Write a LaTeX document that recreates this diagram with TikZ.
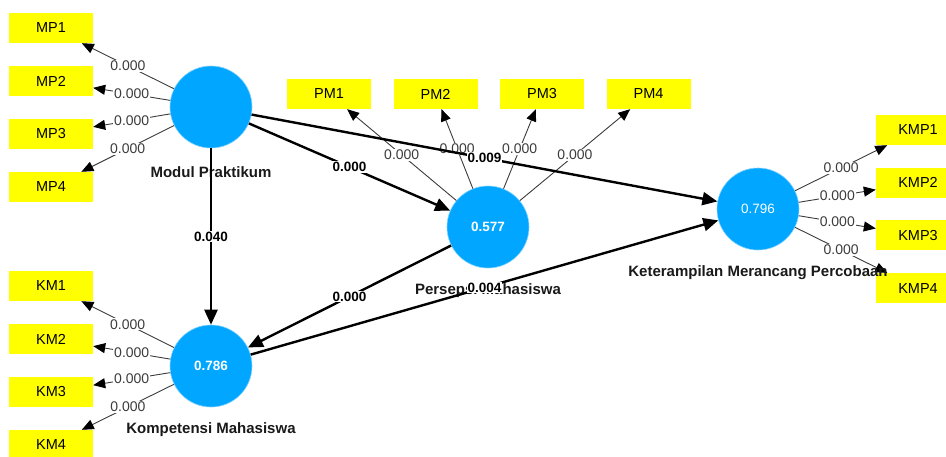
\documentclass[tikz,border=0pt]{standalone}
\usepackage{fontspec}
\setmainfont{Liberation Sans}
\usetikzlibrary{arrows.meta,positioning}

\definecolor{lvblue}{RGB}{0,166,255}
\definecolor{lvedge}{RGB}{130,210,255}
\definecolor{indyellow}{RGB}{255,255,0}
\definecolor{loadgray}{RGB}{60,60,60}

\begin{document}
\begin{tikzpicture}[x=1pt, y=-1pt, node distance=53pt,
  font=\fontsize{13.5}{15}\selectfont,
  lv/.style = {circle, fill=lvblue, draw=lvedge, line width=0.6pt, minimum size=82pt, inner sep=0pt, text=white},
  ind/.style = {rectangle, fill=indyellow, minimum width=84pt, minimum height=30pt, inner sep=0pt, font=\fontsize{14.5}{16}\selectfont},
  lvname/.style = {font=\fontsize{15}{17}\selectfont\bfseries, text=black!90},
  load/.style = {draw=loadgray, line width=0.9pt, -{Triangle[length=12pt,width=10pt,color=black]}},
  struct/.style = {draw=black, line width=2.4pt, -{Triangle[length=15pt,width=13pt]}},
  lw/.style = {fill=white, text=loadgray, inner sep=1pt, font=\fontsize{14}{15}\selectfont},
  sw/.style = {fill=white, font=\fontsize{13.5}{15}\selectfont\bfseries, inner sep=1pt}]
\path[use as bounding box, clip] (0,0) rectangle (946,456);

% indicators
\node[ind] (mp1) at (51,28) {MP1};
\node[ind] (mp2) [below of=mp1] {MP2};
\node[ind] (mp3) [below of=mp2] {MP3};
\node[ind] (mp4) [below of=mp3] {MP4};
\node[ind] (km1) at (51,286) {KM1};
\node[ind] (km2) [below of=km1] {KM2};
\node[ind] (km3) [below of=km2] {KM3};
\node[ind] (km4) [below of=km3] {KM4};
\node[ind] (pm1) at (329,94) {PM1};
\node[ind] (pm2) [right of=pm1, node distance=106.5pt] {PM2};
\node[ind] (pm3) [right of=pm2, node distance=106.5pt] {PM3};
\node[ind] (pm4) [right of=pm3, node distance=106.5pt] {PM4};
\node[ind] (kmp1) at (918,130) {KMP1};
\node[ind] (kmp2) [below of=kmp1, node distance=52.7pt] {KMP2};
\node[ind] (kmp3) [below of=kmp2, node distance=52.7pt] {KMP3};
\node[ind] (kmp4) [below of=kmp3, node distance=52.7pt] {KMP4};

% latent variables
\node[lv] (mp) at (211,107) {};
\node[lv] (km) at (211,366) {\bfseries 0.786};
\node[lv] (pm) at (488,227) {\bfseries 0.577};
\node[lv] (kmp) at (758,209) {0.796};

% outer loadings
\draw[load] (mp) -- node[lw] {0.000} (mp1);
\draw[load] (mp) -- node[lw] {0.000} (mp2);
\draw[load] (mp) -- node[lw] {0.000} (mp3);
\draw[load] (mp) -- node[lw] {0.000} (mp4);
\draw[load] (km) -- node[lw] {0.000} (km1);
\draw[load] (km) -- node[lw] {0.000} (km2);
\draw[load] (km) -- node[lw] {0.000} (km3);
\draw[load] (km) -- node[lw] {0.000} (km4);
\draw[load] (pm) -- node[lw] {0.000} (pm1);
\draw[load] (pm) -- node[lw] {0.000} (pm2);
\draw[load] (pm) -- node[lw] {0.000} (pm3);
\draw[load] (pm) -- node[lw] {0.000} (pm4);
\draw[load] (kmp) -- node[lw] {0.000} (kmp1);
\draw[load] (kmp) -- node[lw] {0.000} (kmp2);
\draw[load] (kmp) -- node[lw] {0.000} (kmp3);
\draw[load] (kmp) -- node[lw] {0.000} (kmp4);

% names
\node[lvname] (mpname) [below of=mp, node distance=65pt] {Modul Praktikum};
\node[lvname] (kmname) [below of=km, node distance=64pt] {Kompetensi Mahasiswa};
\node[lvname] (pmname) [below of=pm, node distance=64pt] {Persepsi Mahasiswa};
\node[lvname] (kmpname) [below of=kmp, node distance=64pt] {Keterampilan Merancang Percobaan};

% inner model
\draw[struct] (mp) -- node[sw] {0.040} (km);
\draw[struct] (mp) -- node[sw] {0.000} (pm);
\draw[struct] (mp) -- node[sw] {0.009} (kmp);
\draw[struct] (pm) -- node[sw] {0.000} (km);
\draw[struct] (km) -- node[sw] {0.004} (kmp);
\end{tikzpicture}
\end{document}
